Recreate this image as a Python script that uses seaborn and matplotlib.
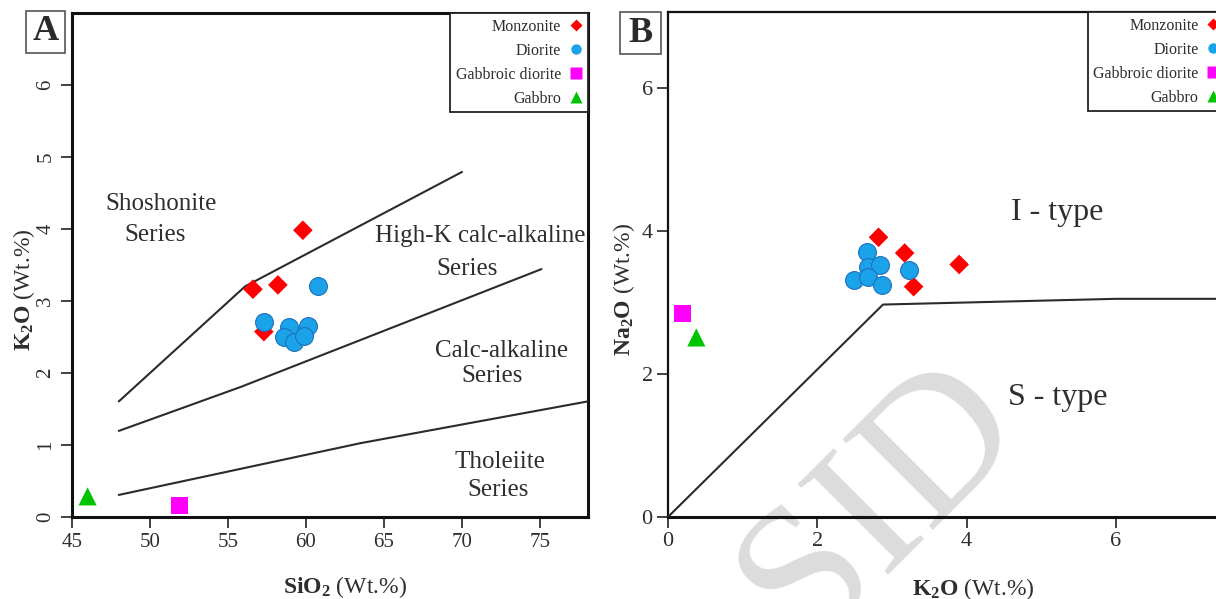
import matplotlib
matplotlib.use("Agg")
import matplotlib.pyplot as plt
import seaborn as sns
import pandas as pd
from matplotlib.lines import Line2D
from matplotlib.patches import Rectangle

# ---------------- data ----------------
rock_types = ["Monzonite", "Diorite", "Gabbroic diorite", "Gabbro"]

# Panel A : SiO2 vs K2O
monz_sio2 = [59.8, 58.2, 56.6, 57.3]
monz_k2o_a = [3.98, 3.22, 3.16, 2.57]
dior_sio2 = [60.8, 57.3, 58.9, 60.1, 58.6, 59.25, 59.9]
dior_k2o_a = [3.20, 2.70, 2.63, 2.65, 2.49, 2.43, 2.51]
gabdio_sio2 = [51.9]
gabdio_k2o_a = [0.15]
gab_sio2 = [46.0]
gab_k2o_a = [0.28]

# Panel B : K2O vs Na2O
monz_k2o_b = [2.82, 3.17, 3.90, 3.29]
monz_na2o = [3.91, 3.69, 3.53, 3.22]
dior_k2o_b = [2.67, 2.68, 2.84, 2.49, 2.68, 2.86, 3.23]
dior_na2o = [3.70, 3.50, 3.52, 3.32, 3.35, 3.25, 3.45]
gabdio_k2o_b = [0.19]
gabdio_na2o = [2.85]
gab_k2o_b = [0.38]
gab_na2o = [2.51]

# Boundary lines, panel A
shos_sio2 = [48.0, 56.1, 70.0]
shos_k2o = [1.60, 3.20, 4.79]
hk_sio2 = [48.0, 55.8, 75.1]
hk_k2o = [1.19, 1.80, 3.44]
th_sio2 = [48.0, 63.5, 78.06]
th_k2o = [0.30, 1.02, 1.60]
# Boundary line, panel B (I/S type)
is_k2o = [0.0, 2.88, 6.0, 7.6]
is_na2o = [0.0, 2.97, 3.05, 3.05]

# ---------------- styles ----------------
style = {
    "Monzonite": dict(marker="D", color="#ff0000", s=100, edge="none"),
    "Diorite": dict(marker="o", color="#1aa3e8", s=165, edge="#1f6fc0"),
    "Gabbroic diorite": dict(marker="s", color="#ff00ff", s=150, edge="none"),
    "Gabbro": dict(marker="^", color="#00c400", s=170, edge="none"),
}
TXT = "#2e2e2e"

sns.set_theme(style="white")
plt.rcParams["font.family"] = ["Liberation Serif", "DejaVu Serif"]
plt.rcParams["mathtext.fontset"] = "custom"
plt.rcParams["mathtext.rm"] = "Liberation Serif"
plt.rcParams["mathtext.bf"] = "Liberation Serif:bold"
plt.rcParams["mathtext.it"] = "Liberation Serif:italic"

fig = plt.figure(figsize=(12.16, 5.99), dpi=100)
fig.patch.set_facecolor("white")

axA = fig.add_axes([0.0592, 0.1377, 0.4241, 0.8406])
axB = fig.add_axes([0.5493, 0.1369, 0.4581, 0.8431])
for ax in (axA, axB):
    ax.set_facecolor("none")

# watermark
fig.text(0.7245, 0.160, "SID", rotation=45, fontsize=140, color="#dcdcdc",
         ha="center", va="center", rotation_mode="anchor", zorder=-1)

def plot_groups(ax, groups):
    for name, xs, ys in groups:
        st = style[name]
        df = pd.DataFrame({"x": xs, "y": ys})
        sns.scatterplot(data=df, x="x", y="y", ax=ax, marker=st["marker"],
                        color=st["color"], s=st["s"], edgecolor=st["edge"],
                        linewidth=0.8, zorder=5, legend=False)

def plot_line(ax, xs, ys):
    df = pd.DataFrame({"x": xs, "y": ys})
    sns.lineplot(data=df, x="x", y="y", ax=ax, sort=False, estimator=None,
                 color="#2b2b2b", linewidth=1.5, zorder=3)

# ---- Panel A ----
plot_line(axA, shos_sio2, shos_k2o)
plot_line(axA, hk_sio2, hk_k2o)
plot_line(axA, th_sio2, th_k2o)
plot_groups(axA, [("Monzonite", monz_sio2, monz_k2o_a),
                  ("Diorite", dior_sio2, dior_k2o_a),
                  ("Gabbroic diorite", gabdio_sio2, gabdio_k2o_a),
                  ("Gabbro", gab_sio2, gab_k2o_a)])
axA.set_xlim(45, 78.06)
axA.set_ylim(0, 7.0)
axA.set_xticks([45, 50, 55, 60, 65, 70, 75])
axA.set_yticks([0, 1, 2, 3, 4, 5, 6])
for lab, x, y in [("Shoshonite", 50.71, 4.26), ("Series", 50.35, 3.83),
                  ("High-K calc-alkaline", 71.15, 3.82), ("Series", 70.32, 3.36),
                  ("Calc-alkaline", 72.56, 2.22), ("Series", 71.92, 1.87),
                  ("Tholeiite", 72.44, 0.67), ("Series", 72.31, 0.28)]:
    axA.text(x, y, lab, ha="center", va="baseline", fontsize=18, color=TXT)

# ---- Panel B ----
plot_line(axB, is_k2o, is_na2o)
plot_groups(axB, [("Monzonite", monz_k2o_b, monz_na2o),
                  ("Diorite", dior_k2o_b, dior_na2o),
                  ("Gabbroic diorite", gabdio_k2o_b, gabdio_na2o),
                  ("Gabbro", gab_k2o_b, gab_na2o)])
axB.set_xlim(0, 7.46)
axB.set_ylim(0, 7.06)
axB.set_xticks([0, 2, 4, 6])
axB.set_yticks([0, 2, 4, 6])
axB.text(5.21, 4.15, "I - type", ha="center", va="baseline", fontsize=23, color=TXT)
axB.text(5.22, 1.57, "S - type", ha="center", va="baseline", fontsize=23, color=TXT)

# ---- axes styling ----
for ax, lw in ((axA, 2.2), (axB, 1.6)):
    for sp in ax.spines.values():
        sp.set_color("#111111")
        sp.set_linewidth(lw)
    ax.spines["bottom"].set_linewidth(2.2)
    ax.tick_params(axis="both", which="major", direction="out", length=8, width=1.2,
                   color="#222222", labelcolor=TXT, bottom=True, left=True,
                   top=False, right=False)
    ax.set_xlabel("")
    ax.set_ylabel("")
axB.spines["right"].set_visible(False)
axA.tick_params(axis="both", labelsize=15, pad=4)
axB.tick_params(axis="both", labelsize=16, pad=3)
for t in axA.get_yticklabels():
    t.set_rotation(90)
    t.set_va("center")

axA.set_xlabel(r"$\mathbf{SiO_2}$ (Wt.%)", fontsize=17, color=TXT, va="baseline")
axA.xaxis.set_label_coords(0.529, -0.152)
axA.set_ylabel(r"$\mathbf{K_2O}$ (Wt.%)", fontsize=17, color=TXT)
axA.yaxis.set_label_coords(-0.068, 0.45)
axB.set_xlabel(r"$\mathbf{K_2O}$ (Wt.%)", fontsize=17, color=TXT, va="baseline")
axB.xaxis.set_label_coords(0.549, -0.154)
axB.set_ylabel(r"$\mathbf{Na_2O}$ (Wt.%)", fontsize=17, color=TXT)
axB.yaxis.set_label_coords(-0.056, 0.45)

# ---- legends ----
leg_sizes = {"Monzonite": 6, "Diorite": 7.5, "Gabbroic diorite": 8, "Gabbro": 9}
def add_legend(ax):
    handles = [Line2D([], [], linestyle="none", marker=style[n]["marker"],
                      color=style[n]["color"], markersize=leg_sizes[n],
                      markeredgecolor="none") for n in rock_types]
    leg = ax.legend(handles, rock_types, loc="upper right", bbox_to_anchor=(1, 1),
                    borderaxespad=0, markerfirst=False, frameon=True, fancybox=False,
                    fontsize=11.5, handlelength=0.8, handletextpad=0.5,
                    labelspacing=0.5, borderpad=0.35, framealpha=1)
    leg.get_frame().set_edgecolor("#222222")
    leg.get_frame().set_linewidth(1.3)
    for t in leg.get_texts():
        t.set_color(TXT)
    leg.set_zorder(10)
add_legend(axA)
add_legend(axB)

# ---- panel letters ----
for (x0, y0, w, h), (tx, ty), letter in [
        ((0.0214, 0.9115, 0.0321, 0.0701), (0.0374, 0.9466), "A"),
        ((0.5099, 0.9098, 0.0337, 0.0701), (0.5267, 0.9449), "B")]:
    fig.patches.append(Rectangle((x0, y0), w, h, transform=fig.transFigure,
                                 fill=False, edgecolor="#555555", linewidth=1.2))
    fig.text(tx, ty, letter, ha="center", va="center", fontsize=26,
             fontweight="bold", color="#2a2a2a")

fig.savefig("out.png", dpi=100)
